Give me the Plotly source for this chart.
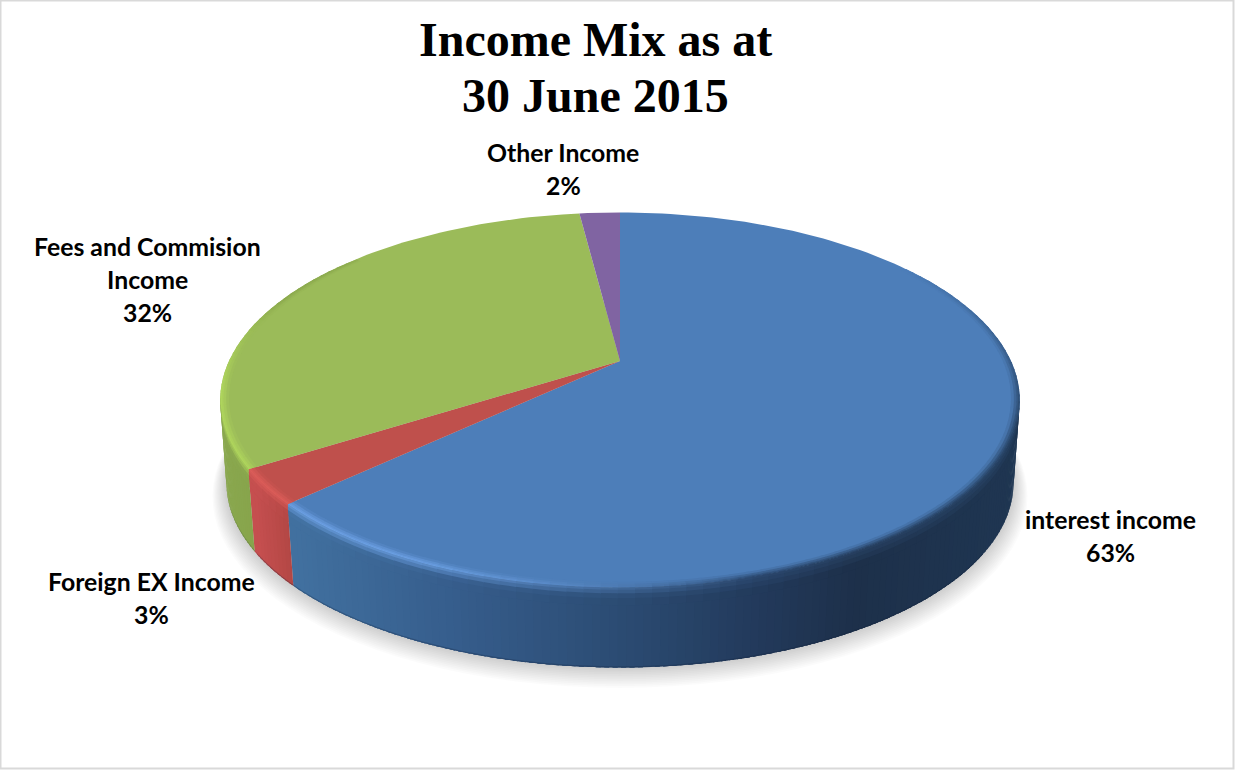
import math
import plotly.graph_objects as go

# Income mix, percent of total, clockwise from twelve o'clock
categories = ["interest income", "Foreign EX Income", "Fees and Commision Income", "Other Income"]
shares = [63, 3, 32, 2]
label_lines = [["interest income"], ["Foreign EX Income"], ["Fees and Commision", "Income"], ["Other Income"]]
title_lines = ["Income Mix as at", "30 June 2015"]

top_colors = ["#4d7eb9", "#bf504c", "#9bbb59", "#8064a2"]
glow_colors = ["#74a9ee", "#e2605c", "#b4dc5e", "#9a7cc0"]
# side-wall colour as (x position, colour) stops
wall_stops = [
    [(295, "#41709f"), (450, "#365d8c"), (620, "#2b4b72"), (760, "#22395a"), (850, "#1d304a"), (1020, "#1f3652")],
    [(255, "#c54f4f"), (300, "#ad4441")],
    [(220, "#8aa84f"), (262, "#86a34a")],
    [(580, "#6a5388"), (620, "#6a5388")],
]

# Perspective model of the disc
CX, Y_TOP, RX, RY, K = 620.0, 361.0, 391.0, 179.5, 0.2085
Y_BOTTOM, BOTTOM_SCALE = 445.0, 0.985


def project(theta, r=1.0, y0=Y_TOP):
    sx, cy = math.sin(theta), math.cos(theta)
    w = 1 + K * r * cy
    return CX + RX * r * sx / w, y0 - RY * r * cy / w


def hex_rgb(c):
    return tuple(int(c[i:i + 2], 16) for i in (1, 3, 5))


def mix(a, b, t):
    t = max(0.0, min(1.0, t))
    return tuple(a[i] + (b[i] - a[i]) * t for i in range(3))


def css(c):
    return "rgb(%d,%d,%d)" % tuple(round(v) for v in c)


def wall_color(i, x):
    stops = wall_stops[i]
    if x <= stops[0][0]:
        return hex_rgb(stops[0][1])
    for (x0, c0), (x1, c1) in zip(stops, stops[1:]):
        if x <= x1:
            return mix(hex_rgb(c0), hex_rgb(c1), (x - x0) / (x1 - x0))
    return hex_rgb(stops[-1][1])


def wall_point(theta, f):
    # f runs from 0 at the top rim to 1 at the bottom rim of the side wall
    xa, ya = project(theta)
    xb, yb = project(theta, BOTTOM_SCALE, Y_BOTTOM)
    return xa + (xb - xa) * f, ya + (yb - ya) * f


def poly(fig, pts, color):
    xs = [p[0] for p in pts] + [pts[0][0]]
    ys = [p[1] for p in pts] + [pts[0][1]]
    fig.add_trace(go.Scatter(
        x=xs, y=ys, mode="lines", fill="toself", fillcolor=color,
        line=dict(color="rgba(0,0,0,0)", width=0),
        hoverinfo="skip", showlegend=False,
    ))


def grid(a, b, step):
    n = max(1, int(math.ceil((b - a) / step)))
    return [a + (b - a) * j / n for j in range(n + 1)]


def highlight(deg):
    # Strength of the lit rim along the front-left part of the disc
    if deg < 165 or deg > 292:
        return 0.0
    if deg < 205:
        return (deg - 165) / 40 * 0.85
    if deg < 262:
        return 0.85
    return 0.85 * (292 - deg) / 30


def rim_dark(deg):
    # How far the rim darkens towards the wall colour; fades out behind the disc
    if deg < 110:
        return max(0.0, (deg - 55) / 55)
    return 1.0


fig = go.Figure()

# Soft shadow on the ground below the disc
n_shadow = 12
for s in range(n_shadow, 0, -1):
    pts = [project(math.radians(d), BOTTOM_SCALE + 0.0028 * s, Y_BOTTOM + 0.9 * s) for d in range(0, 360, 3)]
    poly(fig, pts, "rgba(0,0,0,0.014)")

# Slice boundaries in degrees
bounds = [0.0]
for v in shares:
    bounds.append(bounds[-1] + v / sum(shares) * 360.0)

WALL_FROM, WALL_TO = 100.0, 260.0
RIM_FROM, RIM_TO = 55.0, 310.0
OVERLAP = 0.6

# Side wall, painted in sweep order; every strip laps over the one before it
# so no seams open between them
for i in range(len(shares)):
    a, b = max(bounds[i], WALL_FROM), min(bounds[i + 1], WALL_TO)
    if a >= b:
        continue
    g = grid(a, b, 1.0)
    for d0, d1 in zip(g, g[1:]):
        t0, t1 = math.radians(max(a, d0 - OVERLAP)), math.radians(d1)
        base = wall_color(i, wall_point(math.radians((d0 + d1) / 2), 0.5)[0])
        poly(fig, [wall_point(t0, 0), wall_point(t1, 0), wall_point(t1, 1), wall_point(t0, 1)], css(base))
        poly(fig, [wall_point(t0, 0.985), wall_point(t1, 0.985), wall_point(t1, 1), wall_point(t0, 1)],
             css(mix(base, (20, 35, 60), 0.3)))

# Top face of each slice
for i in range(len(shares)):
    g = grid(bounds[i], bounds[i + 1], 1.5)
    pts = [project(0, 0)] + [project(math.radians(d)) for d in g]
    poly(fig, pts, top_colors[i])

# Rounded rim: bands across the edge blending top colour, glow and wall colour
rim_rows = [(-0.02, -0.013), (-0.013, -0.007), (-0.007, -0.003), (-0.003, 0.0),
            (0.0, 0.035), (0.035, 0.08), (0.08, 0.14), (0.14, 0.22)]


def rim_point(theta, u):
    return project(theta, 1 + u) if u <= 0 else wall_point(theta, u)


for i in range(len(shares)):
    a, b = max(bounds[i], RIM_FROM), min(bounds[i + 1], RIM_TO)
    if a >= b:
        continue
    g = grid(a, b, 2.0)
    top = hex_rgb(top_colors[i])
    glow = hex_rgb(glow_colors[i])
    for d0, d1 in zip(g, g[1:]):
        mid = (d0 + d1) / 2
        t0, t1 = math.radians(max(a, d0 - OVERLAP)), math.radians(d1)
        wall = wall_color(i, project(math.radians(mid))[0])
        h = highlight(mid)
        dark = rim_dark(mid)
        for u0, u1 in rim_rows:
            if u0 >= 0 and not (WALL_FROM <= mid <= WALL_TO):
                continue
            um = (u0 + u1) / 2
            if um < 0:
                ramp = (um + 0.02) / 0.02
                c = mix(top, wall, ramp * 0.8 * dark * (1 - h / 0.85))
                c = mix(c, glow, h * ramp)
            else:
                c = mix(mix(top, wall, 0.8), wall, um / 0.22 * 1.3)
                c = mix(c, glow, h * max(0.0, 0.8 - um * 7))
            # each band starts a little early so it covers the seam with the last one
            start = u0 - 0.001 if u0 <= 0 else u0 - 0.01
            poly(fig, [rim_point(t0, start), rim_point(t1, start), rim_point(t1, u1), rim_point(t0, u1)], css(c))

annotations = []
for k, line in enumerate(title_lines):
    annotations.append(dict(
        x=595, y=(39, 95)[k], text="<b>%s</b>" % line, showarrow=False,
        font=dict(family="Liberation Serif", size=48, color="#000000"), xanchor="center", yanchor="middle",
    ))

# Data labels: x centre and y of the first line, then one row per line
label_anchor = [(1110, 519), (151, 581), (147, 246), (563, 152)]
for i, lines in enumerate(label_lines):
    x, y = label_anchor[i]
    rows = lines + ["%d%%" % shares[i]]
    for j, row in enumerate(rows):
        annotations.append(dict(
            x=x, y=y + 33 * j, text="<b>%s</b>" % row, showarrow=False,
            font=dict(family="Lato", size=24.8, color="#000000"), xanchor="center", yanchor="middle",
        ))

fig.update_layout(
    width=1235, height=770, margin=dict(l=0, r=0, t=0, b=0),
    paper_bgcolor="#ffffff", plot_bgcolor="#ffffff", showlegend=False,
    xaxis=dict(range=[0, 1235], visible=False, fixedrange=True),
    yaxis=dict(range=[770, 0], visible=False, fixedrange=True),
    annotations=annotations,
    shapes=[dict(type="rect", x0=0.5, y0=0.5, x1=1233.5, y1=768.5,
                 line=dict(color="#d9d9d9", width=2), layer="below")],
)
fig.write_html("out.html", config=dict(displayModeBar=False))
